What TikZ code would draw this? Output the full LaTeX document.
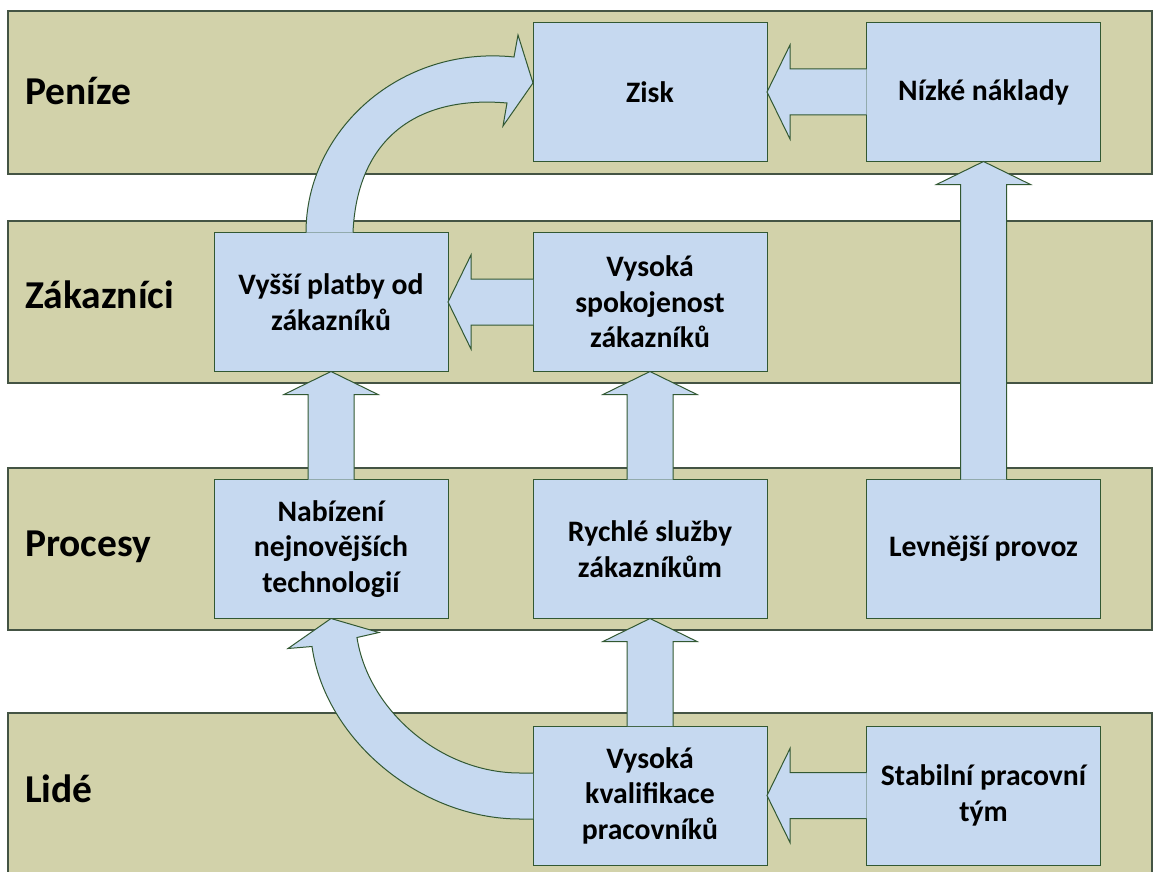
\documentclass[tikz,border=0pt]{standalone}
\usepackage{fontspec}
\setmainfont{Carlito}
\usetikzlibrary{calc}

\definecolor{bandfill}{RGB}{210,210,170}
\definecolor{boxfill}{RGB}{198,217,240}
\definecolor{boxedge}{RGB}{50,88,50}
\definecolor{bandedge}{RGB}{68,84,68}

\tikzset{
  band/.style={draw=bandedge, fill=bandfill, line width=1.2pt},
  card/.style={draw=boxedge, fill=boxfill, line width=1pt,
    minimum width=234pt, minimum height=139pt, inner sep=0pt, outer sep=0pt,
    align=center, font=\fontsize{29.7}{35.5}\selectfont\bfseries},
  layer/.style={anchor=base west, inner sep=0pt, outer sep=0pt,
    font=\fontsize{39.5}{47}\selectfont\bfseries},
  flow/.style={draw=boxedge, fill=boxfill, line width=1pt, line join=miter},
}

% block arrow pointing up from the top of #1 to the bottom of #2
\newcommand{\pushup}[2]{%
  \filldraw[flow] ($(#1.north)+(-23,0)$) -- ($(#2.south)+(-23,23)$)
    -- ($(#2.south)+(-47,23)$) -- (#2.south) -- ($(#2.south)+(47,23)$)
    -- ($(#2.south)+(23,23)$) -- ($(#1.north)+(23,0)$);}
% block arrow pointing left from the left side of #1 to the right side of #2
\newcommand{\pushleft}[2]{%
  \filldraw[flow] ($(#1.west)+(0,-23)$) -- ($(#2.east)+(23,-23)$)
    -- ($(#2.east)+(23,-47)$) -- (#2.east) -- ($(#2.east)+(23,47)$)
    -- ($(#2.east)+(23,23)$) -- ($(#1.west)+(0,23)$);}

\begin{document}
\begin{tikzpicture}[x=1pt, y=-1pt]
\useasboundingbox (0,0) rectangle (1156,872);

% the four horizontal layers
\draw[band] (8,11) rectangle (1152,174);
\draw[band] (8,221) rectangle (1152,383);
\draw[band] (8,468) rectangle (1152,630);
\draw[band] (8,713) rectangle (1152,884);

\node[layer] (lpenize) at (25,105) {Peníze};
\node[layer] (lzakaz) at (25,308) {Zákazníci};
\node[layer] (lproc) at (25,556) {Procesy};
\node[layer] (llide) at (25,802) {Lidé};

% boxes
\node[card] (zisk) at (650,92) {Zisk};
\node[card] (naklady) at (983.5,92) {Nízké náklady};
\node[card] (platby) at (331,302) {Vyšší platby od\\zákazníků};
\node[card] (spokoj) at (650,302) {Vysoká\\spokojenost\\zákazníků};
\node[card] (technol) at (331,549) {Nabízení\\nejnovějších\\technologií};
\node[card] (sluzby) at (650,549) {Rychlé služby\\zákazníkům};
\node[card] (provoz) at (983.5,549) {Levnější provoz};
\node[card] (kvalif) at (650,795.5) {Vysoká\\kvalifikace\\pracovníků};
\node[card] (tym) at (983.5,795.5) {Stabilní pracovní\\tým};

% straight block arrows
\pushleft{naklady}{zisk}
\pushup{provoz}{naklady}
\pushleft{spokoj}{platby}
\pushup{technol}{platby}
\pushup{sluzby}{spokoj}
\pushup{kvalif}{sluzby}
\pushleft{tym}{kvalif}

% curved arrow: higher payments -> profit
\filldraw[flow] ($(platby.north)+(-25,0)$)
  .. controls ($(platby.north)+(-25,-102)$) and ($(zisk.west)+(-133,-47)$)
  .. ($(zisk.west)+(-19,-35)$) -- ($(zisk.west)+(-15,-57)$)
  -- ($(zisk.west)+(0,-9)$) -- ($(zisk.west)+(-30,34)$)
  -- ($(zisk.west)+(-26,11)$)
  .. controls ($(zisk.west)+(-118,3)$) and ($(platby.north)+(26,-92)$)
  .. ($(platby.north)+(22,0)$);

% curved arrow: qualified staff -> newest technologies
\filldraw[flow] ($(kvalif.west)+(0,23.5)$) -- ($(kvalif.west)+(-13,23.5)$)
  .. controls ($(kvalif.west)+(-113,23.5)$) and ($(technol.south)+(-6,121)$)
  .. ($(technol.south)+(-19,28)$) -- ($(technol.south)+(-43,30)$)
  -- (technol.south) -- ($(technol.south)+(48,14)$)
  -- ($(technol.south)+(26,19)$)
  .. controls ($(technol.south)+(37,91)$) and ($(kvalif.west)+(-93,-22.5)$)
  .. ($(kvalif.west)+(-13,-22.5)$) -- ($(kvalif.west)+(0,-22.5)$);
\end{tikzpicture}
\end{document}
